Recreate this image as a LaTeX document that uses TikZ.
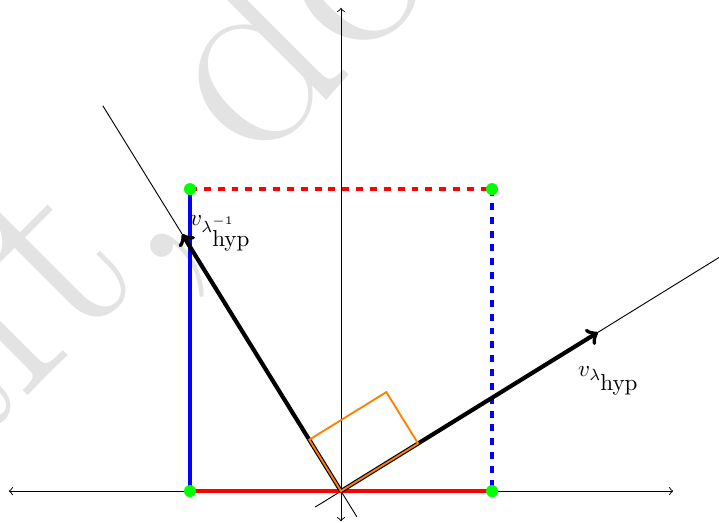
\documentclass[tikz,border=0pt]{standalone}
\usepackage{amsmath,amssymb}
\usepackage{tikz}
\usetikzlibrary{arrows,calc}

\tikzset{
  axis/.style={thin,<->},
  eigline/.style={thin},
  vect/.style={->,line width=1.8pt},
  side/.style={line width=2pt},
  rightangle/.style={orange,thick},
  wmark/.style={text=black!11,font=\fontsize{121}{121}\selectfont,rotate=45,anchor=base west,inner sep=0pt}
}

\begin{document}
\begin{tikzpicture}[x=2.3cm,y=2.3cm]
\useasboundingbox (-2.258,-0.205) rectangle (2.503,3.252);
\begin{scope}
\clip (-2.258,-0.205) rectangle (2.503,3.252);
\node[wmark] (W) at (-4.105,-1.402) {Draft, do not distribute};
\end{scope}

\coordinate (O) at (0,0);
\coordinate (xl) at (-2.2,0);
\coordinate (xr) at (2.2,0);
\coordinate (yb) at (0,-0.2);
\coordinate (yt) at (0,3.2);
\draw[axis] (xl) -- (xr);
\draw[axis] (yb) -- (yt);

% eigenlines
\coordinate (l1a) at (211.717:0.2);
\coordinate (l1b) at (31.717:3);
\coordinate (l2a) at (301.717:0.2);
\coordinate (l2b) at (121.717:3);
\draw[eigline] (l1a) -- (l1b);
\draw[eigline] (l2a) -- (l2b);

% box
\coordinate (A) at (-1,0);
\coordinate (B) at (1,0);
\coordinate (C) at (1,2);
\coordinate (D) at (-1,2);
\draw[side,red] (A) -- (B);
\draw[side,blue] (A) -- (D);
\draw[side,red,dashed] (D) -- (C);
\draw[side,blue,dashed] (C) -- (B);

% vectors
\coordinate (vh) at (31.717:2);
\coordinate (vi) at (121.717:2);
\draw[vect] (O) -- (vh);
\draw[vect] (O) -- (vi);

\coordinate (r1) at (121.717:0.4);
\coordinate (r2) at (31.717:0.6);
\coordinate (r3) at ($(r1)+(r2)$);
\draw[rightangle] (O) -- (r1) -- (r3) -- (r2) -- cycle;

\fill[green] (A) circle (2.6pt);
\fill[green] (B) circle (2.6pt);
\fill[green] (C) circle (2.6pt);
\fill[green] (D) circle (2.6pt);

\node (lh) at (1.775,0.728) {$v_{\lambda_{\mbox{hyp}}}$};
\node (li) at (-0.795,1.709) {$v_{\lambda^{-1}_{\mbox{hyp}}}$};
\end{tikzpicture}
\end{document}
